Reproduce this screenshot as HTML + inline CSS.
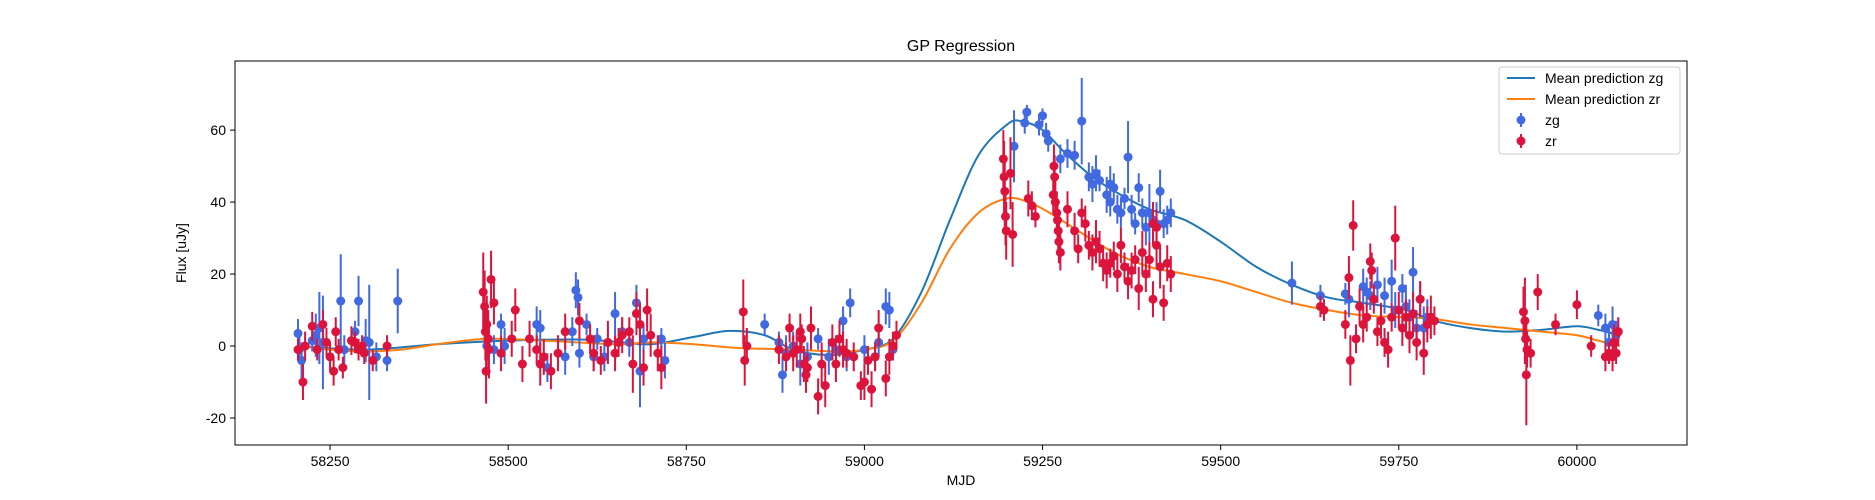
<!DOCTYPE html>
<html><head><meta charset="utf-8">
<style>
html,body{margin:0;padding:0;background:#fff;}
svg{display:block;font-family:"Liberation Sans","DejaVu Sans",sans-serif;}
</style></head>
<body>
<svg id="chart" width="1875" height="500" viewBox="0 0 1875 500" xmlns="http://www.w3.org/2000/svg">
<rect x="0" y="0" width="1875" height="500" fill="#fff"/>
<text x="961" y="51" font-size="16" text-anchor="middle" fill="#000">GP Regression</text>
<g id="plot"></g>
<rect x="235" y="61" width="1452" height="384" fill="none" stroke="#000" stroke-width="1"/>
<g id="axes"></g>
<text x="961" y="485" font-size="14" text-anchor="middle">MJD</text>
<text x="186" y="253" font-size="14" text-anchor="middle" transform="rotate(-90 186 253)">Flux [uJy]</text>
<g>
<rect x="1499" y="67" width="181" height="87" rx="3" fill="#fff" fill-opacity="0.8" stroke="#ccc"/>
<line x1="1507" y1="78" x2="1535" y2="78" stroke="#1f77b4" stroke-width="2"/>
<text x="1545" y="83" font-size="14">Mean prediction zg</text>
<line x1="1507" y1="99" x2="1535" y2="99" stroke="#ff7f0e" stroke-width="2"/>
<text x="1545" y="104" font-size="14">Mean prediction zr</text>
<line x1="1521" y1="113" x2="1521" y2="127" stroke="#4169e1" stroke-width="2"/>
<circle cx="1521" cy="120" r="4.5" fill="#4169e1"/>
<text x="1545" y="125" font-size="14">zg</text>
<line x1="1521" y1="134" x2="1521" y2="148" stroke="#dc143c" stroke-width="2"/>
<circle cx="1521" cy="141" r="4.5" fill="#dc143c"/>
<text x="1545" y="146" font-size="14">zr</text>
</g>
</svg>
<script>
const xTicks=[58250,58500,58750,59000,59250,59500,59750,60000];
const yTicks=[-20,0,20,40,60];
const zgMjd=[58205,58207,58210,58225,58230,58235,58240,58265,58270,58285,58290,58300,58305,58330,58345,58315,
58470,58480,58490,58495,58540,58545,58555,58580,58590,58595,58598,58600,58610,58620,58625,58635,58650,58660,58670,58680,58685,58690,58720,58715,
58860,58880,58885,58890,58900,58910,58920,58935,58950,58960,58970,58975,58980,59000,59015,59020,59030,59035,59040,
59210,59225,59228,59245,59250,59255,59258,59275,59285,59295,59305,59315,59320,59325,59330,59345,59350,59355,59360,59365,59370,59375,59380,59385,59390,59395,59400,59405,59410,59415,59420,59425,59430,59345,59340,
59600,59640,59675,59680,59700,59705,59710,59720,59730,59740,59745,59755,59760,59765,59770,59775,59780,59785,59790,
60030,60040,60045,60050,60055,60058];
const zgFlux=[3.5,-1,-4,1.5,3,5,1,12.5,-1,4,12.5,1.5,1,-4,12.5,-3,
0,-1,6,0,6,5,-6,-3,4,15.5,13.5,-2,6,-3,2,-3,9,4,1,12,-7,2,-4,2,
6,1,-8,-2,0,-5,-3,2,-3,-1,7,-3,12,-1,-3,1,11,10,-1,
55.5,62,65,61.5,64,59,57,52,53.5,53,62.5,47,45,48,46,45,44,38,37,41,52.5,38,34,44,37,33,37,35,34,43,34,35,37,40,42,
17.5,14,14.5,13,16.5,15,14,17,14,18,10,16,11,8,20.5,5,13,5,8,
8.5,5,1,6,3,4];
const zgErr=[4,4,5,3,6,10,13,13,4,3,7,6,16,3,9,4,
4,4,3,5,5,5,4,5,4,5,5,4,3,4,3,4,6,4,4,5,10,4,5,3,
3,3,5,5,4,6,4,3,5,4,4,4,4,4,4,4,5,5,3,
10,3,2,3,2,3,3,4,4,4,12,4,5,5,3,5,4,4,4,3,10,4,3,4,4,5,8,5,6,6,4,4,4,4,5,
6,3,3,5,5,4,4,5,5,6,5,4,6,5,7,5,5,6,5,
3,4,4,5,4,3];
const zrMjd=[58205,58212,58215,58225,58232,58240,58245,58250,58255,58258,58262,58268,58280,58285,58290,58295,58298,58310,58330,
58465,58467,58468,58469,58470,58472,58473,58476,58480,58490,58505,58510,58520,58530,58540,58545,58550,58560,58570,58580,58600,58615,58620,58630,58640,58650,58655,58660,58670,58675,58680,58685,58690,58695,58700,58710,58715,
58830,58832,58835,58880,58890,58895,58900,58905,58910,58912,58915,58918,58920,58925,58935,58940,58945,58955,58960,58965,58970,58975,58985,58995,59000,59005,59010,59015,59020,59030,59035,59040,59045,
59195,59196,59197,59198,59199,59205,59208,59230,59235,59240,59265,59266,59267,59268,59270,59271,59272,59273,59275,59285,59295,59300,59305,59310,59315,59320,59325,59330,59335,59340,59345,59350,59355,59360,59365,59370,59375,59380,59385,59390,59395,59400,59405,59410,59415,59420,59425,59430,59405,59410,
59640,59645,59675,59680,59682,59686,59690,59695,59700,59705,59710,59712,59715,59720,59725,59730,59735,59740,59745,59750,59755,59760,59765,59770,59775,59780,59785,59790,59795,59800,
59925,59927,59928,59929,59930,59935,59945,59970,60000,60020,60040,60045,60050,60055,60058,60052];
const zrFlux=[-1,-10,0,5.5,-1,6,1,-3,-7,4,-1,-6,1.5,1,-1,0,-2,-4,0,
15,11,4,-7,6,2,-1,18.5,12,-2,2,10,-5,2,-1,-5,-3,-7,-2,4,7,2,-2,-4,1,-2,1,3,4,-5,9,6,-6,10,3,-2,-6,
9.5,-4,0,-1,-3,5,-2,-1,4,2,-5,-8,-6,5,-14,-5,-11,1,-5,2,-1,-2,-3,-11,-10,-4,-12,-3,5,-9,-3,0,3,
52,47,43,36,32,48,31,41,39,36,42,50,47,40,37,35,32,29,26,38,32,27,37,34,28,26,29,27,23,21,23,25,20,28,22,18,21,24,16,26,20,24,13,28,22,12,23,20,34,33,
11,10,6,19,-4,33.5,2,11,6,8,23.5,21,13,4,7,1,-1,8,30,10,5,8,3,9,1,13,-2,6,8,7,
9.5,7,2,-8,-1,-2,15,6,11.5,0,-3,-2,-3,-2,4,1];
const zrErr=[3,5,4,4,3,4,4,4,4,4,3,3,4,3,3,3,3,3,3,
11,10,8,9,8,8,8,8,6,5,5,6,5,5,4,6,5,5,5,5,5,4,5,4,6,5,4,5,4,8,6,6,5,6,6,5,6,
9,7,5,4,4,4,5,5,5,4,5,5,4,6,5,6,6,5,5,5,5,4,4,4,5,4,5,4,5,5,5,4,4,
8,10,10,8,8,10,9,5,4,3,5,6,6,6,6,5,6,6,5,5,5,4,4,5,4,5,6,5,5,5,4,4,5,5,4,5,5,4,6,6,5,5,5,6,6,5,5,5,6,5,
3,3,4,6,7,7,4,5,5,4,5,5,4,4,5,4,5,4,9,5,5,5,5,6,5,5,6,5,6,4,
7,12,6,14,5,4,5,3,4,3,4,3,4,3,4,5];
const zgMeanMjd=[58205,58300,58400,58500,58600,58650,58700,58760,58810,58860,58900,58950,59000,59040,59080,59120,59160,59200,59220,59250,59280,59320,59360,59400,59450,59500,59550,59600,59650,59700,59760,59800,59850,59900,59950,60000,60030,60060];
const zgMean=[0,-1,0.5,1.5,1.8,1.2,0.5,2.5,4.2,3,-1,-2.5,-1,2,15,35,53,61.5,62.5,60,54,47,42,38,35,29,22,17,13.5,12,10,7,5,4,4.5,5.5,4.5,3];
const zrMeanMjd=[58205,58250,58300,58350,58400,58470,58550,58650,58700,58760,58820,58900,58960,59000,59040,59080,59120,59160,59200,59230,59260,59300,59350,59400,59450,59500,59550,59600,59650,59700,59760,59800,59850,59900,59950,60000,60030,60060];
const zrMean=[0,-1,-1.5,-1,0.5,2,1.5,0.5,1,0.5,-0.5,-1,-1.5,-1,1.5,12,27,37,41,40,37,32,26,22,20,18,15,12,10,8.5,8,7.5,6,5,4,3,1.5,0];

const NS='http://www.w3.org/2000/svg';
const X0=235,X1=1687,Y0=61,Y1=445;
const xMin=58116.6,xMax=60154.5,yMin=-27.5,yMax=79.2;
function sx(v){return X0+(v-xMin)/(xMax-xMin)*(X1-X0);}
function sy(v){return Y1-(v-yMin)/(yMax-yMin)*(Y1-Y0);}
function mk(tag,attrs,parent){const e=document.createElementNS(NS,tag);for(const k in attrs)e.setAttribute(k,attrs[k]);parent.appendChild(e);return e;}
const plot=document.getElementById('plot');
const axes=document.getElementById('axes');

xTicks.forEach(t=>{
  const g=mk('g',{},axes);
  
  
  mk('line',{x1:sx(t),x2:sx(t),y1:Y1,y2:Y1+5,stroke:'#000'},g);
  const tx=mk('text',{x:sx(t),y:Y1+21,'font-size':14,'text-anchor':'middle'},g);
  tx.textContent=t;
});
yTicks.forEach(t=>{
  const g=mk('g',{},axes);
  
  
  mk('line',{x1:X0-5,x2:X0,y1:sy(t),y2:sy(t),stroke:'#000'},g);
  const tx=mk('text',{x:X0-9,y:sy(t)+5,'font-size':14,'text-anchor':'end'},g);
  tx.textContent=t;
});

function smoothPath(xs,ys){
  const p=xs.map((x,i)=>[sx(x),sy(ys[i])]);
  let d='M'+p[0][0]+','+p[0][1];
  for(let i=0;i<p.length-1;i++){
    const p0=p[Math.max(0,i-1)],p1=p[i],p2=p[i+1],p3=p[Math.min(p.length-1,i+2)];
    const c1=[p1[0]+(p2[0]-p0[0])/6,p1[1]+(p2[1]-p0[1])/6];
    const c2=[p2[0]-(p3[0]-p1[0])/6,p2[1]-(p3[1]-p1[1])/6];
    d+=' C'+c1+' '+c2+' '+p2;
  }
  return d;
}
function drawSeries(mjd,flux,err,color,name){
  const g=mk('g',{},plot);
  
  
  mjd.forEach((m,i)=>{
    const bar=mk('line',{x1:sx(m),x2:sx(m),y1:sy(flux[i]-err[i]),y2:sy(flux[i]+err[i]),stroke:color,'stroke-width':2},g);
    
    
    const c=mk('circle',{cx:sx(m),cy:sy(flux[i]),r:4.5,fill:color},g);
    
    
  });
}
const clip=mk('clipPath',{id:'clipP'},plot);
mk('rect',{x:X0,y:Y0,width:X1-X0,height:Y1-Y0},clip);
const l1=mk('path',{d:smoothPath(zgMeanMjd,zgMean),fill:'none',stroke:'#1f77b4','stroke-width':2,'clip-path':'url(#clipP)'},plot);


const l2=mk('path',{d:smoothPath(zrMeanMjd,zrMean),fill:'none',stroke:'#ff7f0e','stroke-width':2,'clip-path':'url(#clipP)'},plot);


drawSeries(zgMjd,zgFlux,zgErr,'#4169e1','zg');
drawSeries(zrMjd,zrFlux,zrErr,'#dc143c','zr');
</script>
</body></html>
